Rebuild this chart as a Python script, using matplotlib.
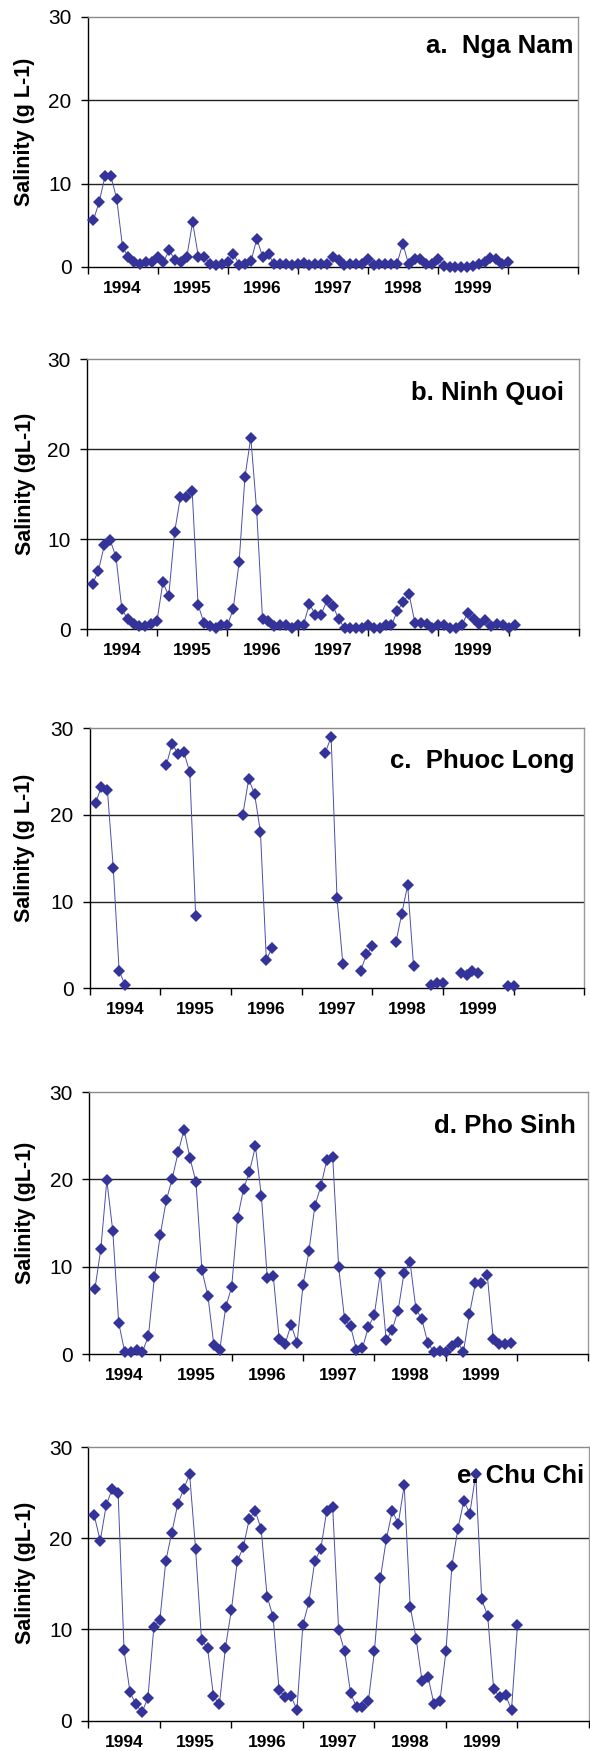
import numpy as np
import matplotlib
matplotlib.use("Agg")
import matplotlib.pyplot as plt
from matplotlib.ticker import FixedLocator, NullFormatter, FixedFormatter

plt.rcParams['font.family'] = ['Liberation Sans', 'DejaVu Sans']

nan = np.nan
year_labels = ["1994", "1995", "1996", "1997", "1998", "1999"]

titles = ["a.  Nga Nam", "b. Ninh Quoi", "c.  Phuoc Long", "d. Pho Sinh", "e. Chu Chi"]
ylabels = ["Salinity (g L-1)", "Salinity (gL-1)", "Salinity (g L-1)",
           "Salinity (gL-1)", "Salinity (gL-1)"]

# monthly salinity (g/L), month index starts at Jan 1994
nga_nam = [5.6, 7.8, 10.9, 10.9, 8.2, 2.4, 1.2, 0.6, 0.4, 0.6, 0.6, 1.2,
           0.6, 2.0, 0.8, 0.6, 1.2, 5.4, 1.2, 1.2, 0.4, 0.2, 0.4, 0.6,
           1.6, 0.2, 0.4, 0.7, 3.4, 1.2, 1.5, 0.3, 0.3, 0.3, 0.2, 0.3,
           0.5, 0.2, 0.3, 0.3, 0.3, 1.2, 0.8, 0.2, 0.3, 0.3, 0.3, 1.0,
           0.2, 0.3, 0.3, 0.3, 0.4, 2.8, 0.3, 0.9, 1.0, 0.4, 0.3, 1.0,
           0.1, 0.0, 0.0, 0.0, 0.0, 0.1, 0.4, 0.6, 1.1, 1.0, 0.3, 0.6]

ninh_quoi = [5.0, 6.5, 9.3, 9.9, 8.0, 2.2, 1.1, 0.6, 0.3, 0.3, 0.6, 0.9,
             5.2, 3.7, 10.8, 14.7, 14.7, 15.3, 2.7, 0.7, 0.3, 0.1, 0.4, 0.4,
             2.2, 7.4, 16.9, 21.3, 13.2, 1.1, 0.9, 0.3, 0.5, 0.4, 0.1, 0.4,
             0.5, 2.8, 1.6, 1.6, 3.2, 2.6, 1.1, 0.1, 0.1, 0.1, 0.1, 0.4,
             0.1, 0.1, 0.4, 0.4, 2.0, 3.0, 3.9, 0.7, 0.7, 0.6, 0.1, 0.4,
             0.4, 0.1, 0.1, 0.4, 1.8, 1.1, 0.6, 1.0, 0.3, 0.6, 0.5, 0.1, 0.4]

phuoc_long = [21.4, 23.2, 22.9, 13.9, 2.0, 0.4, nan, nan, nan, nan, nan, nan,
              25.7, 28.2, 27.0, 27.2, 24.9, 8.3, nan, nan, nan, nan, nan, nan,
              nan, 20.0, 24.1, 22.4, 18.0, 3.3, 4.7, nan, nan, nan, nan, nan,
              nan, nan, nan, 27.1, 29.0, 10.4, 2.8, nan, nan, 2.0, 3.9, 4.9,
              nan, nan, nan, 5.3, 8.6, 11.9, 2.6, nan, nan, 0.4, 0.6, 0.6,
              nan, nan, 1.8, 1.5, 2.0, 1.8, nan, nan, nan, nan, 0.3, 0.3]

pho_sinh = [7.5, 12.1, 19.9, 14.1, 3.6, 0.3, 0.3, 0.5, 0.3, 2.1, 8.8, 13.7,
            17.6, 20.1, 23.1, 25.7, 22.4, 19.7, 9.6, 6.7, 1.1, 0.5, 5.4, 7.7,
            15.6, 18.9, 20.9, 23.8, 18.1, 8.7, 9.0, 1.7, 1.2, 3.4, 1.3, 7.9,
            11.8, 17.0, 19.2, 22.2, 22.6, 10.0, 4.0, 3.2, 0.5, 0.7, 3.1, 4.5,
            9.3, 1.6, 2.8, 5.0, 9.3, 10.6, 5.2, 4.0, 1.3, 0.3, 0.4, 0.3,
            0.9, 1.4, 0.3, 4.6, 8.1, 8.2, 9.1, 1.8, 1.2, 1.2, 1.3]

chu_chi = [22.5, 19.7, 23.6, 25.4, 25.0, 7.7, 3.1, 1.8, 0.9, 2.5, 10.3, 11.0,
           17.5, 20.6, 23.7, 25.4, 27.0, 18.8, 8.8, 8.0, 2.7, 1.8, 8.0, 12.1,
           17.5, 19.0, 22.1, 23.0, 21.0, 13.6, 11.4, 3.4, 2.6, 2.7, 1.2, 10.5,
           13.0, 17.5, 18.8, 23.0, 23.4, 9.9, 7.6, 3.0, 1.5, 1.5, 2.2, 7.6,
           15.6, 19.9, 23.0, 21.6, 25.8, 12.5, 9.0, 4.3, 4.8, 1.8, 2.2, 7.6,
           17.0, 21.0, 24.1, 22.7, 27.0, 13.3, 11.5, 3.5, 2.6, 2.8, 1.2, 10.5]

series = [nga_nam, ninh_quoi, phuoc_long, pho_sinh, chu_chi]

W, H = 590, 1751
fig = plt.figure(figsize=(W / 100, H / 100), dpi=100)

# axes boxes in pixels: left, right, top, bottom
boxes = [(87.5, 578, 17, 267),
         (86.7, 579, 359.3, 629),
         (89.7, 584.3, 728, 988.3),
         (89, 588.3, 1092, 1354.3),
         (88.3, 589, 1447, 1720.7)]
title_pos = [(573.3, 53.3), (564.3, 400), (575, 768.3), (576, 1133.3), (584, 1483.3)]
ylab_y = [132, 484, 848, 1213, 1573]

mcol = '#333399'
lcol = '#4d4dab'

for k, (vals, (l, r, t, b)) in enumerate(zip(series, boxes)):
    ax = fig.add_axes([l / W, 1 - b / H, (r - l) / W, (b - t) / H])
    v = np.array(vals, dtype=float)
    x = (np.arange(len(v)) + 1) / 12.0
    ax.plot(x, v, color=lcol, lw=0.7, zorder=3, clip_on=False)
    ax.plot(x, v, linestyle='none', marker='D', markersize=5.8,
            markeredgewidth=0, markerfacecolor=mcol, zorder=4, clip_on=False)
    ax.set_xlim(0, 7)
    ax.set_ylim(0, 30)
    for gy in (10, 20):
        ax.axhline(gy, color='#222222', lw=1.0, zorder=1)
    ax.spines['left'].set_color('black')
    ax.spines['bottom'].set_color('black')
    ax.spines['left'].set_linewidth(1.0)
    ax.spines['bottom'].set_linewidth(1.0)
    ax.spines['top'].set_color('#8a8a8a')
    ax.spines['right'].set_color('#9a9a9a')
    ax.spines['top'].set_linewidth(1.0)
    ax.spines['right'].set_linewidth(1.0)
    ax.set_yticks([0, 10, 20, 30])
    ax.set_yticklabels(["0", "10", "20", "30"], fontsize=15)
    ax.tick_params(axis='y', direction='out', length=5, width=1, pad=6.5)
    ax.xaxis.set_major_locator(FixedLocator(np.arange(0, 8)))
    ax.xaxis.set_major_formatter(NullFormatter())
    ax.xaxis.set_minor_locator(FixedLocator(np.arange(6) + 0.5))
    ax.xaxis.set_minor_formatter(FixedFormatter(year_labels))
    ax.tick_params(axis='x', which='major', direction='out', length=5, width=1)
    ax.tick_params(axis='x', which='minor', length=0, pad=10, labelsize=12.5)
    for lab in ax.xaxis.get_minorticklabels():
        lab.set_fontweight('bold')
    tx, ty = title_pos[k]
    fig.text(tx / W, 1 - ty / H, titles[k], ha='right', va='baseline',
             fontsize=18.5, fontweight='bold')
    fig.text(25 / W, 1 - ylab_y[k] / H, ylabels[k], rotation=90, ha='center',
             va='center', fontsize=15.5, fontweight='bold')

fig.savefig("out.png", dpi=100)
